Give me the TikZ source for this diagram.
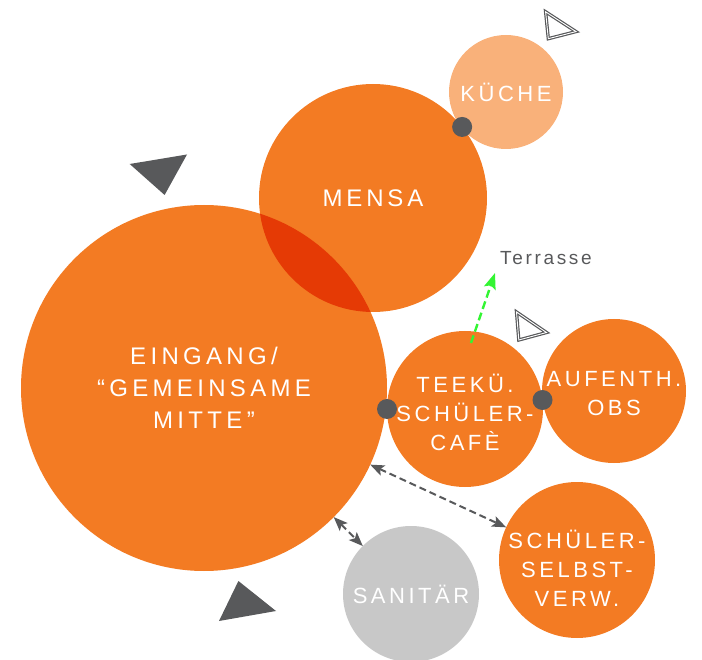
\documentclass[tikz,border=0pt]{standalone}
\usepackage{fontspec}
\setmainfont{Liberation Sans}
\newfontfamily\roomfont[LetterSpace=16]{Liberation Sans}
\newfontfamily\bigroomfont[LetterSpace=18]{Liberation Sans}
\newfontfamily\notefont[LetterSpace=14]{Liberation Sans}
\usetikzlibrary{arrows.meta, calc}
\definecolor{RoomColor}{RGB}{243,123,35}
\definecolor{KitchenColor}{RGB}{249,177,122}
\definecolor{OverlapColor}{RGB}{229,58,5}
\definecolor{ServiceColor}{RGB}{200,200,200}
\definecolor{MarkColor}{RGB}{88,89,91}
\definecolor{ExitColor}{RGB}{51,245,51}
\tikzstyle{link} = [MarkColor, line width=2pt, dash pattern=on 7pt off 4pt, {Stealth[length=14pt,width=11pt,inset=3pt]}-{Stealth[length=14pt,width=11pt,inset=3pt]}]
\tikzstyle{exit arrow} = [ExitColor, line width=2.4pt, dash pattern=on 8pt off 4pt, -{Stealth[length=16pt,width=12pt,inset=3pt]}]
\tikzset{
  room/.style={circle, fill=RoomColor, text=white, inner sep=0pt, outer sep=0pt, align=center, font=\roomfont\fontsize{22}{29}\selectfont},
  room label/.style={text=white, inner sep=0pt, align=center, font=\roomfont\fontsize{22}{29}\selectfont},
  joint/.style={circle, fill=MarkColor, inner sep=0pt, minimum size=20pt},
  marker/.style={fill=MarkColor},
  open marker/.style={draw=MarkColor, line width=1.2pt, double=white, double distance=0.9pt, line join=miter},
  note/.style={text=MarkColor, inner sep=0pt, font=\notefont\fontsize{19}{22}\selectfont}
}
\begin{document}
\begin{tikzpicture}[x=1pt, y=-1pt]
  \useasboundingbox (0,0) rectangle (702,660);

  % Rooms
  \node[room, minimum size=366pt, font=\bigroomfont\fontsize{24}{32}\selectfont] (eingang) at (204,388) {EINGANG/\\“GEMEINSAME\\MITTE”};
  \node[room, minimum size=228pt, font=\roomfont\fontsize{24}{29}\selectfont] (mensa) at (373,198) {MENSA};
  \node[room, minimum size=114pt, fill=KitchenColor] (kueche) at (506,92) {KÜCHE};
  \node[room, minimum size=156pt, label={[room label, yshift=-3pt]center:TEEKÜ.\\SCHÜLER-\\CAFÈ}] (teekue) at (465,409) {};
  \node[room, minimum size=144pt, label={[room label, yshift=-3pt]center:AUFENTH.\\OBS}] (aufenthalt) at (614,391) {};
  \node[room, minimum size=156pt, label={[room label, yshift=-8pt]center:SCHÜLER-\\SELBST-\\VERW.}] (selbstverw) at (577,560) {};
  \node[room, minimum size=136pt, fill=ServiceColor] (sanitaer) at (411,594) {SANITÄR};

  % Overlap
  \begin{scope}
    \clip (mensa.center) circle (114);
    \fill[OverlapColor] (eingang.center) circle (183);
  \end{scope}

  % Joints
  \node[joint] (j1) at ($(mensa.center)!114pt!(kueche.center)$) {};
  \node[joint] (j2) at (teekue.west) {};
  \node[joint] (j3) at ($(teekue.east)!0.5!(aufenthalt.west)$) {};

  % Links
  \draw[link] (eingang) -- (selbstverw);
  \draw[link] (eingang) -- (sanitaer);

  % Terrace
  \node[note, anchor=base west] (terrasse) at (500,265) {Terrasse};
  \coordinate (terrace exit) at ($(teekue.north)+(6,12)$);
  \coordinate (terrace end) at ($(terrasse.base west)+(-5,8)$);
  \draw[exit arrow] (terrace exit) -- (terrace end);

  % Markers
  \fill[marker] (129.7,164) -- (187,154.5) -- (164.6,195) -- cycle;
  \fill[marker] (219,621) -- (238.4,581) -- (276,611) -- cycle;
  \draw[open marker] (545.6,11.8) -- (576,31.6) -- (548.3,38.7) -- cycle;
  \draw[open marker] (516.5,312) -- (546.5,332.5) -- (518.8,340) -- cycle;
\end{tikzpicture}
\end{document}
